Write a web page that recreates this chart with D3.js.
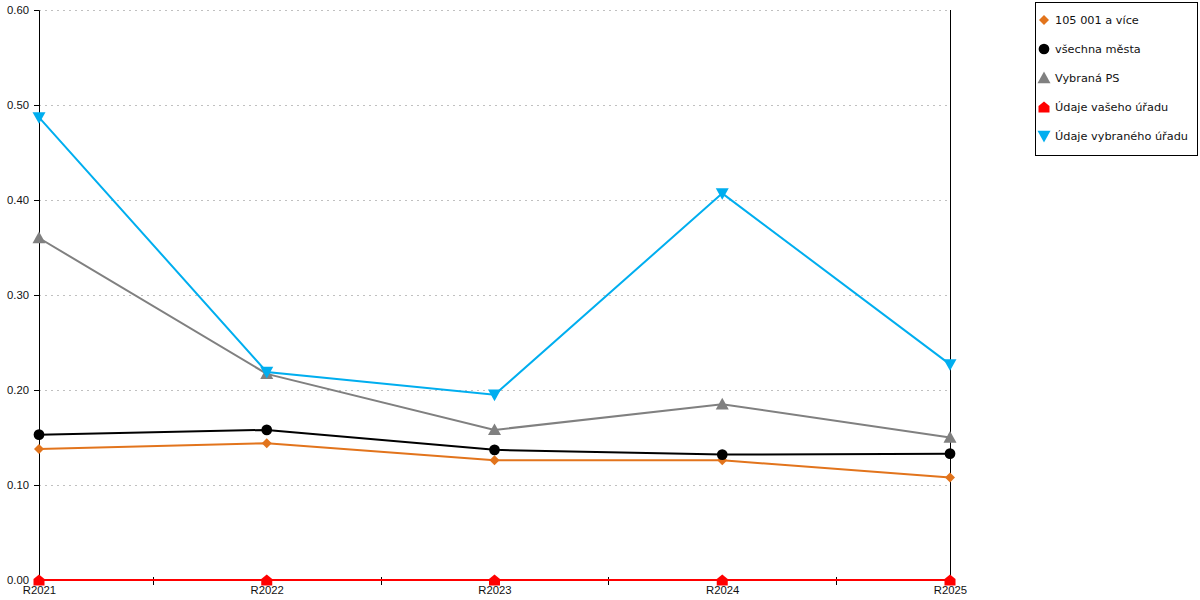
<!DOCTYPE html>
<html>
<head>
<meta charset="utf-8">
<script src="https://cdn.jsdelivr.net/npm/d3@7"></script>
<style>
  body { margin: 0; background: #fff; }
  svg { font-family: "DejaVu Sans", Verdana, sans-serif; }
  .grid line { stroke: #c0c0c0; stroke-dasharray: 2 4; }
  .axis path, .axis line { stroke: #000; }
  .axis text { font-size: 11.3px; fill: #111; }
  .legend text { font-size: 11.3px; fill: #111; }
</style>
</head>
<body>
<script>
// Data
const categories = ['R2021', 'R2022', 'R2023', 'R2024', 'R2025'];
const yTicks = [0, 0.1, 0.2, 0.3, 0.4, 0.5, 0.6];

const seriesNames = ['105 001 a více', 'všechna města', 'Vybraná PS', 'Údaje vašeho úřadu', 'Údaje vybraného úřadu'];
const orangeValues = [0.138, 0.144, 0.126, 0.126, 0.108];
const blackValues = [0.153, 0.158, 0.137, 0.132, 0.133];
const greyValues = [0.360, 0.217, 0.158, 0.185, 0.150];
const redValues = [0, 0, 0, 0, 0];
const blueValues = [0.487, 0.219, 0.195, 0.407, 0.227];

const seriesColors = ['#e2741c', '#000000', '#808080', '#ff0000', '#00aeef'];
const seriesSymbols = ['diamond', 'circle', 'triangle', 'house', 'triangleDown'];
const seriesValues = [orangeValues, blackValues, greyValues, redValues, blueValues];

// SVG canvas
const width = 1200;
const height = 600;
const plotLeft = 39;
const plotRight = 950;
const plotTop = 10;
const plotBottom = 580;

const svg = d3.select('body')
  .append('svg')
    .attr('width', width)
    .attr('height', height);

const x = d3.scalePoint()
  .domain(categories)
  .range([plotLeft, plotRight]);

const y = d3.scaleLinear()
  .domain([0, 0.6])
  .range([plotBottom, plotTop]);

// Gridlines
svg.append('g')
    .attr('class', 'grid')
  .selectAll('line')
    .data(yTicks.filter((d) => d > 0))
  .enter().append('line')
    .attr('x1', plotLeft)
    .attr('x2', plotRight)
    .attr('y1', (d) => y(d) + 0.5)
    .attr('y2', (d) => y(d) + 0.5);

// Y axis
svg.append('g')
    .attr('class', 'axis')
    .attr('transform', `translate(${plotLeft},0)`)
    .call(d3.axisLeft(y).tickValues(yTicks).tickFormat(d3.format('.2f')).tickSizeOuter(0).tickSize(5).tickPadding(5));

// Right border line
svg.append('line')
    .attr('x1', plotRight + 0.5)
    .attr('x2', plotRight + 0.5)
    .attr('y1', plotTop)
    .attr('y2', plotBottom)
    .attr('stroke', '#000');

// X axis (labels under categories, ticks between them)
const xAxis = svg.append('g')
    .attr('class', 'axis')
    .attr('transform', `translate(0,${plotBottom})`)
    .call(d3.axisBottom(x).tickSize(0).tickSizeOuter(0).tickPadding(6));
xAxis.select('.domain').attr('d', `M${plotLeft},0.5H${plotRight}`);

const mids = categories.slice(1).map((c, i) => (x(categories[i]) + x(c)) / 2);
xAxis.selectAll('.midtick')
    .data(mids)
  .enter().append('line')
    .attr('class', 'midtick')
    .attr('x1', (d) => Math.round(d) + 0.5)
    .attr('x2', (d) => Math.round(d) + 0.5)
    .attr('y1', -3)
    .attr('y2', 5);

// Marker shapes
function symbolPath(type, s) {
  switch (type) {
    case 'diamond':
      return `M0,${-s}L${s},0L0,${s}L${-s},0Z`;
    case 'circle':
      return d3.symbol(d3.symbolCircle, 90)();
    case 'triangle':
      return `M0,${-s}L${s},${s * 0.8}L${-s},${s * 0.8}Z`;
    case 'triangleDown':
      return `M0,${s}L${s},${-s * 0.8}L${-s},${-s * 0.8}Z`;
    case 'house':
      return `M0,${-s}L${s},${-s * 0.2}L${s},${s}L${-s},${s}L${-s},${-s * 0.2}Z`;
  }
}
const symbolSize = [5, 0, 6.5, 5.5, 6.5];

// Lines and markers
const line = d3.line()
  .x((d, i) => x(categories[i]))
  .y((d) => y(d));

seriesValues.forEach((vals, k) => {
  const g = svg.append('g');
  g.append('path')
      .datum(vals)
      .attr('fill', 'none')
      .attr('stroke', seriesColors[k])
      .attr('stroke-width', 2)
      .attr('d', line);
  g.selectAll('path.marker')
      .data(vals)
    .enter().append('path')
      .attr('class', 'marker')
      .attr('transform', (d, i) => `translate(${x(categories[i])},${y(d)})`)
      .attr('fill', seriesColors[k])
      .attr('d', symbolPath(seriesSymbols[k], symbolSize[k]));
});

// Legend
const legend = svg.append('g')
    .attr('class', 'legend');

legend.append('rect')
    .attr('x', 1035.5)
    .attr('y', 2.5)
    .attr('width', 162)
    .attr('height', 153)
    .attr('fill', '#fff')
    .attr('stroke', '#000');

const items = legend.selectAll('g.item')
    .data(seriesNames)
  .enter().append('g')
    .attr('class', 'item')
    .attr('transform', (d, i) => `translate(1044,${20 + i * 29})`);

items.append('path')
    .attr('fill', (d, i) => seriesColors[i])
    .attr('d', (d, i) => symbolPath(seriesSymbols[i], symbolSize[i]));

items.append('text')
    .attr('x', 11)
    .attr('y', 4)
    .text((d) => d);
</script>
</body>
</html>
